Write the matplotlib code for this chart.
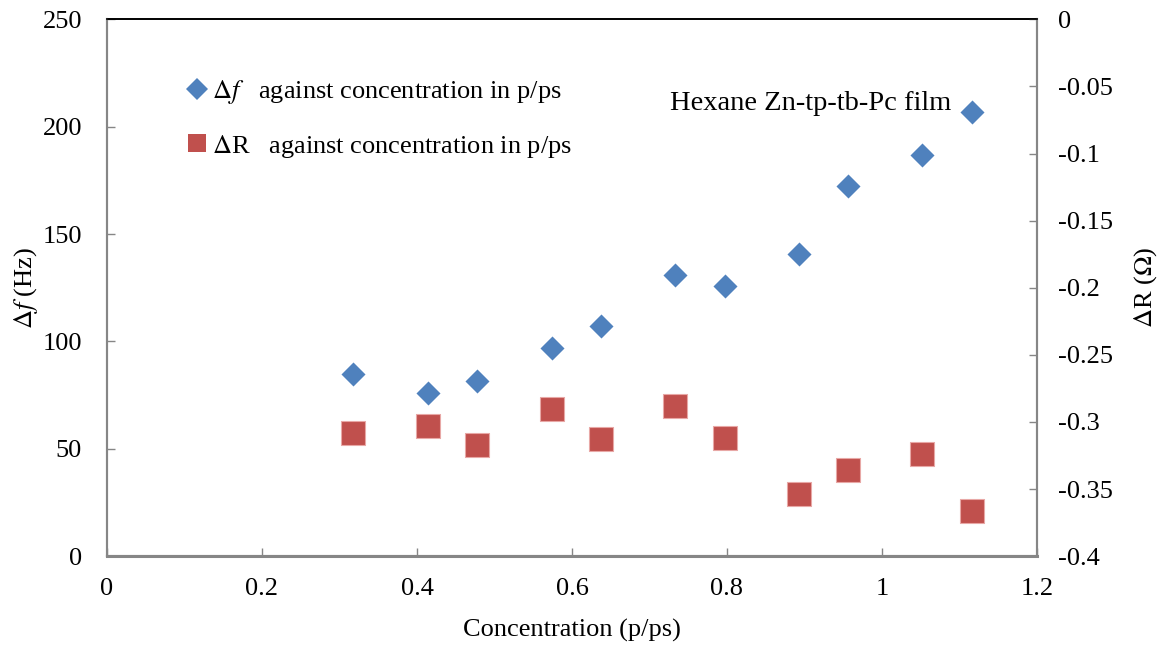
import matplotlib.pyplot as plt
from matplotlib.lines import Line2D

plt.rcParams["font.family"] = "Liberation Serif"
plt.rcParams["mathtext.fontset"] = "stix"

# concentration (p/ps), frequency shift (Hz), resistance shift (ohm)
conc = [0.318, 0.414, 0.478, 0.574, 0.637, 0.733, 0.797, 0.893, 0.956, 1.052, 1.116]
delta_f = [84.9, 75.9, 81.8, 96.8, 107.4, 131.0, 125.8, 140.6, 172.5, 186.7, 206.7]
delta_r = [-0.308, -0.303, -0.317, -0.2905, -0.313, -0.288, -0.312,
           -0.354, -0.336, -0.324, -0.366]

x_ticks = [0, 0.2, 0.4, 0.6, 0.8, 1, 1.2]
x_tick_labels = ["0", "0.2", "0.4", "0.6", "0.8", "1", "1.2"]
f_ticks = [0, 50, 100, 150, 200, 250]
r_ticks = [0, -0.05, -0.1, -0.15, -0.2, -0.25, -0.3, -0.35, -0.4]
r_tick_labels = ["0", "-0.05", "-0.1", "-0.15", "-0.2", "-0.25", "-0.3", "-0.35", "-0.4"]

blue = "#4F81BD"
red = "#C0504D"
grey = "#868686"
fs = 19

fig = plt.figure(figsize=(11.58, 6.46), dpi=100)
ax = fig.add_axes([0.0924, 0.139, 0.8031, 0.831])
ax2 = ax.twinx()

ax.scatter(conc, delta_f, marker="D", s=150, color=blue, linewidths=0, zorder=3)
ax2.scatter(conc, delta_r, marker="s", s=300, color=red, edgecolors="#E8A8A6",
            linewidths=0.8, zorder=3)

ax.set_xlim(0, 1.2)
ax.set_ylim(0, 250)
ax2.set_ylim(-0.4, 0)
ax.set_xticks(x_ticks)
ax.set_xticklabels(x_tick_labels)
ax.set_yticks(f_ticks)
ax2.set_yticks(r_ticks)
ax2.set_yticklabels(r_tick_labels)

for a in (ax, ax2):
    for side in ("left", "right", "bottom"):
        a.spines[side].set_color(grey)
        a.spines[side].set_linewidth(1.5)
    a.spines["top"].set_color("black")
    a.spines["top"].set_linewidth(1.2)
    a.tick_params(direction="in", length=6, width=1, color=grey, labelsize=fs)
ax.spines["bottom"].set_linewidth(2.2)
ax.tick_params(axis="x", pad=16)
ax.tick_params(axis="y", pad=18)
ax2.tick_params(axis="y", pad=15)

ax.set_xlabel("Concentration (p/ps)", fontsize=fs, labelpad=13)
ax.set_ylabel(r"$\Delta f$ (Hz)", fontsize=fs, labelpad=2)
ax2.set_ylabel(r"$\Delta$R ($\Omega$)", fontsize=fs, labelpad=14)

handles = [
    Line2D([], [], marker="D", linestyle="none", color=blue, markersize=11.5,
           markeredgewidth=0),
    Line2D([], [], marker="s", linestyle="none", color=red, markersize=12.5,
           markeredgewidth=0),
]
labels = [r"$\Delta f$   against concentration in p/ps",
          r"$\Delta$R   against concentration in p/ps"]
ax.legend(handles, labels, loc="upper left", bbox_to_anchor=(0.077, 0.91),
          frameon=False, fontsize=fs, handlelength=0.6, handletextpad=0.25,
          labelspacing=1.0, borderaxespad=0)

ax.text(0.726, 211, "Hexane Zn-tp-tb-Pc film", fontsize=20.5, va="center", ha="left")

fig.savefig("out.png", dpi=100)
